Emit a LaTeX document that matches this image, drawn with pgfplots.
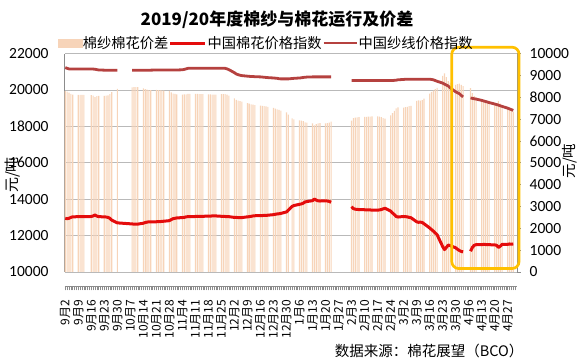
\documentclass[border=0pt]{standalone}
\usepackage{pgfplots}
\pgfplotsset{compat=1.18}
\usepackage{pgfplotstable}
\usepackage{fontspec}
\setmainfont{Noto Sans CJK SC}
\newfontfamily\cjk{Noto Sans CJK SC}
\newfontfamily\numfont{Carlito}
\definecolor{cottonred}{RGB}{228,12,12}
\definecolor{yarnred}{RGB}{181,65,63}
\definecolor{barcol}{RGB}{247,212,185}
\definecolor{gridgray}{RGB}{185,185,185}
\definecolor{axisgray}{RGB}{140,140,140}
\definecolor{boxyellow}{RGB}{255,192,0}

\pgfplotstableread{
day cotton yarn spread
0 12950 21230 8280
1 12930 21190 8260
2 12950 21160 8210
3 13000 21150 8150
4 13030 21150 8120
7 13040 21150 8110
8 13040 21150 8110
9 13040 21150 8110
10 13040 21150 8110
14 13050 21150 8100
15 13080 21150 8070
16 13130 21140 8010
17 13070 21120 8050
18 13040 21100 8060
21 13030 21090 8060
22 13020 21090 8070
23 13000 21090 8090
24 12950 21090 8140
25 12850 21090 8240
28 12700 21090 8390
36 12640 21090 8450
37 12630 21090 8460
38 12630 21090 8460
39 12630 21090 8460
42 12680 21090 8410
43 12720 21090 8370
44 12740 21090 8350
45 12760 21090 8330
46 12760 21090 8330
49 12760 21100 8340
50 12770 21100 8330
51 12770 21100 8330
52 12780 21100 8320
53 12790 21100 8310
56 12820 21100 8280
57 12880 21100 8220
58 12930 21100 8170
59 12950 21100 8150
60 12970 21100 8130
63 12990 21110 8120
64 13000 21130 8130
65 13030 21160 8130
66 13040 21190 8150
67 13040 21200 8160
70 13050 21200 8150
71 13050 21200 8150
72 13060 21200 8140
73 13060 21200 8140
74 13060 21200 8140
77 13070 21200 8130
78 13070 21200 8130
79 13080 21200 8120
80 13080 21200 8120
81 13080 21200 8120
84 13060 21200 8140
85 13060 21200 8140
86 13050 21190 8140
87 13040 21160 8120
88 13040 21120 8080
91 13000 20950 7950
92 13000 20880 7880
93 12990 20840 7850
94 12990 20810 7820
95 12990 20790 7800
98 13030 20760 7730
99 13040 20750 7710
100 13060 20740 7680
101 13080 20740 7660
102 13090 20730 7640
105 13100 20720 7620
106 13100 20710 7610
107 13110 20700 7590
108 13110 20690 7580
109 13120 20680 7560
112 13150 20660 7510
113 13170 20650 7480
114 13190 20640 7450
115 13200 20620 7420
116 13220 20610 7390
119 13300 20610 7310
120 13400 20610 7210
122 13600 20630 7030
123 13650 20640 6990
126 13720 20660 6940
127 13740 20670 6930
128 13780 20690 6910
129 13850 20700 6850
130 13870 20710 6840
133 13920 20720 6800
134 14010 20720 6710
135 13950 20720 6770
136 13910 20720 6810
137 13900 20720 6820
140 13910 20720 6810
141 13900 20720 6820
142 13880 20720 6840
143 13830 20720 6890
148 nan nan nan
154 13590 20520 6930
155 13480 20520 7040
156 13450 20520 7070
157 13440 20520 7080
158 13430 20520 7090
161 13420 20520 7100
162 13420 20520 7100
163 13410 20520 7110
164 13410 20520 7110
165 13400 20520 7120
168 13400 20520 7120
169 13410 20520 7110
170 13430 20520 7090
171 13470 20520 7050
172 13500 20520 7020
175 13350 20520 7170
176 13250 20520 7270
177 13150 20530 7380
178 13050 20540 7490
179 13020 20560 7540
182 13050 20580 7530
183 13040 20590 7550
184 13030 20590 7560
185 13000 20590 7590
186 12980 20590 7610
189 12760 20590 7830
190 12730 20590 7860
191 12740 20590 7850
192 12720 20590 7870
193 12650 20590 7940
196 12420 20590 8170
197 12330 20580 8250
198 12250 20560 8310
199 12150 20520 8370
200 12050 20480 8430
203 11400 20380 8980
204 11230 20320 9090
205 11350 20270 8920
206 11480 20220 8740
207 11450 20120 8670
210 11330 19900 8570
211 11250 19850 8600
212 11180 19800 8620
213 11130 19700 8570
214 11110 19620 8510
216 nan nan nan
218 11140 19560 8420
219 11350 19540 8190
220 11470 19520 8050
221 11500 19500 8000
224 11500 19430 7930
225 11520 19400 7880
226 11510 19370 7860
227 11500 19340 7840
228 11500 19310 7810
231 11490 19230 7740
232 11470 19200 7730
233 11350 19170 7820
234 11420 19130 7710
235 11520 19100 7580
238 11520 19000 7480
239 11540 18960 7420
240 11530 18920 7390
241 11540 18880 7340
}\data

\pgfplotsset{
  base/.style={at={(64.7pt,91pt)}, anchor=south west, scale only axis,
    width=452.3pt, height=218.4pt, xmin=-0.3, xmax=243,
    scaled y ticks=false,
    /pgf/number format/1000 sep={}, /pgf/number format/fixed,
    /pgf/number format/assume math mode=true},
  barleg/.style={legend image code/.code={\fill[barcol] (0pt,-3.7pt) rectangle (24pt,3.7pt);}},
  cottonleg/.style={legend image code/.code={\draw[cottonred, line width=3pt] (0pt,0pt) -- (35pt,0pt);}},
  yarnleg/.style={legend image code/.code={\draw[yarnred, line width=2.8pt] (0pt,0pt) -- (33pt,0pt);}},
}

\begin{document}
\begin{tikzpicture}
\useasboundingbox (0,0) rectangle (580pt,363pt);

% left scale: grid and labels
\begin{axis}[base, ymin=10000, ymax=22000,
  axis x line=none, axis y line*=left,
  ytick={10000,12000,...,22000}, ymajorgrids,
  grid style={draw=gridgray, line width=0.8pt},
  y axis line style={draw=axisgray, line width=0.8pt},
  major tick length=0pt,
  yticklabel style={anchor=east, inner sep=0pt, xshift=-16pt, font=\numfont\fontsize{15.5}{15.5}\selectfont}]
\end{axis}

% right scale: spread bars
\begin{axis}[base, ymin=0, ymax=10000,
  axis x line=none, axis y line*=right,
  ytick={0,1000,...,10000},
  y axis line style={draw=axisgray, line width=0.8pt},
  ytick style={draw=axisgray, line width=0.6pt},
  tick align=outside, major tick length=3.5pt,
  yticklabel style={anchor=west, inner sep=0pt, xshift=9pt, font=\numfont\fontsize{15.5}{15.5}\selectfont}]
\addplot[ybar, bar width=0.6, fill=barcol, draw=none] table[x=day, y=spread] {\data};
\end{axis}

% lines on left scale
\begin{axis}[base, ymin=10000, ymax=22000, hide axis, clip=false,
  legend columns=3,
  legend style={at={(0.444,1.0485)}, anchor=center, draw=none, fill=none,
    font=\cjk\fontsize{14.25}{14.25}\selectfont, inner sep=0pt,
    nodes={inner sep=0.6pt}, /tikz/every even column/.append style={column sep=0pt}}]
\addlegendimage{barleg}
\addlegendentry{棉纱棉花价差}
\addplot[cottonred, line width=3pt, line join=round, unbounded coords=jump, cottonleg]
  table[x=day, y=cotton] {\data};
\addlegendentry{中国棉花价格指数}
\addplot[yarnred, line width=2.8pt, line join=round, unbounded coords=jump,
  restrict x to domain=-1:30, yarnleg] table[x=day, y=yarn] {\data};
\addlegendentry{中国纱线价格指数}
\addplot[yarnred, line width=2.8pt, line join=round, unbounded coords=jump,
  restrict x to domain=34:250, forget plot] table[x=day, y=yarn] {\data};
\draw[boxyellow, line width=2.7pt, rounded corners=7pt]
  (axis cs:207.9,22350) rectangle (axis cs:244.1,10190);
\end{axis}

% date axis
\begin{axis}[at={(64.7pt,77pt)}, anchor=south west, scale only axis,
  width=452.3pt, height=10pt, xmin=-0.3, xmax=243, ymin=0, ymax=1,
  axis x line*=bottom, axis y line=none,
  x axis line style={draw=axisgray, line width=0.8pt},
  xtick={0,7,...,238}, minor xtick={0,1,...,242},
  tick align=outside, major tick length=4.5pt, minor tick length=4.5pt,
  xtick style={draw=axisgray, line width=0.5pt},
  minor tick style={draw=axisgray, line width=0.5pt},
  xticklabels={9月2,9月9,9月16,9月23,9月30,10月7,10月14,10月21,10月28,11月4,11月11,11月18,11月25,12月2,12月9,12月16,12月23,12月30,1月6,1月13,1月20,1月27,2月3,2月10,2月17,2月24,3月2,3月9,3月16,3月23,3月30,4月6,4月13,4月20,4月27},
  xticklabel style={rotate=90, anchor=east, inner ysep=0pt, inner xsep=9pt, font=\cjk\fontsize{12}{12}\selectfont}]
\end{axis}

\node[font=\cjk\bfseries\fontsize{17}{17}\selectfont] at (277pt,343pt) {2019/20年度棉纱与棉花运行及价差};
\node[rotate=90, font=\cjk\fontsize{15}{15}\selectfont] at (13pt,188pt) {元/吨};
\node[rotate=90, font=\cjk\fontsize{14.5}{14.5}\selectfont] at (570pt,202pt) {元/吨};
\node[anchor=east, font=\cjk\fontsize{14.5}{14.5}\selectfont] at (527pt,12pt) {数据来源：棉花展望（BCO）};
\end{tikzpicture}
\end{document}
